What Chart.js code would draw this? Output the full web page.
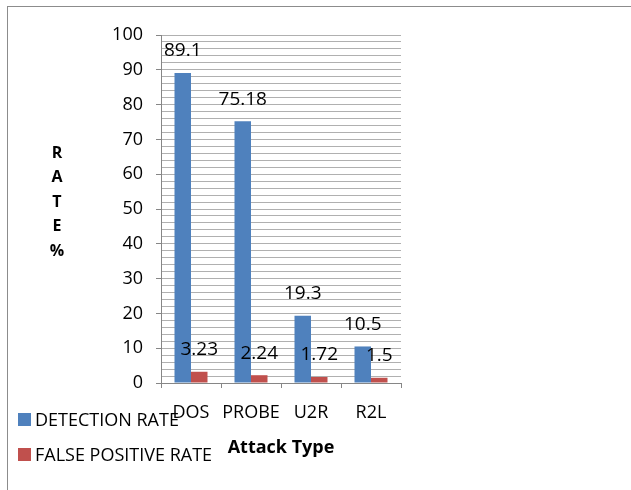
<!DOCTYPE html>
<html><head><meta charset="utf-8">
<script src="https://cdn.jsdelivr.net/npm/chart.js@4.4.0/dist/chart.umd.min.js"></script>
<style>
html,body{margin:0;padding:0;background:#fff;}
#wrap{position:relative;width:631px;height:490px;overflow:hidden;}
#frame{position:absolute;left:7px;top:6px;width:700px;height:600px;border-left:1px solid #8c8c8c;border-top:1px solid #8c8c8c;}
canvas{position:absolute;left:0;top:0;}
</style></head><body>
<div id="wrap"><div id="frame"></div><canvas id="c" width="631" height="490"></canvas></div>
<script>
const categories = ['DOS', 'PROBE', 'U2R', 'R2L'];
const detectionRate = [89.1, 75.18, 19.3, 10.5];
const falsePositiveRate = [3.23, 2.24, 1.72, 1.5];
const seriesNames = ['DETECTION RATE', 'FALSE POSITIVE RATE'];
const seriesColors = ['#4F81BD', '#C0504D'];
const yAxisLetters = ['R', 'A', 'T', 'E', '%'];
const xAxisTitle = 'Attack Type';
const yMin = 0, yMax = 100, yMajorStep = 10, yMinorStep = 2;

const FONT = "'Open Sans', 'Liberation Sans', sans-serif";

// value labels above each bar, stacked axis caption, and the legend in the lower-left corner
const decorations = {
  id: 'decorations',
  afterDatasetsDraw(chart) {
    const ctx = chart.ctx;
    ctx.save();
    ctx.fillStyle = '#000';
    ctx.font = '19px ' + FONT;
    ctx.textAlign = 'center';
    ctx.textBaseline = 'middle';
    chart.data.datasets.forEach((ds, i) => {
      chart.getDatasetMeta(i).data.forEach((bar, j) => {
        ctx.fillText(String(ds.data[j]), bar.x, bar.y - 22);
      });
    });
    ctx.restore();
  },
  afterDraw(chart) {
    const ctx = chart.ctx;
    ctx.save();
    ctx.fillStyle = '#000';
    ctx.font = 'bold 16px ' + FONT;
    ctx.textAlign = 'center';
    ctx.textBaseline = 'middle';
    yAxisLetters.forEach((ch, i) => ctx.fillText(ch, 57, 153 + i * 24.5));

    ctx.font = '18px ' + FONT;
    ctx.textAlign = 'left';
    chart.data.datasets.forEach((ds, i) => {
      const cy = 420 + i * 35;
      ctx.fillStyle = ds.backgroundColor;
      ctx.fillRect(18, cy - 7, 13, 13);
      ctx.fillStyle = '#000';
      ctx.fillText(ds.label, 35, cy + 1);
    });
    ctx.restore();
  }
};

new Chart(document.getElementById('c'), {
  type: 'bar',
  data: {
    labels: categories,
    datasets: [
      { label: seriesNames[0], data: detectionRate, backgroundColor: seriesColors[0] },
      { label: seriesNames[1], data: falsePositiveRate, backgroundColor: seriesColors[1] }
    ]
  },
  options: {
    responsive: false,
    animation: false,
    devicePixelRatio: 1,
    layout: { padding: { left: 0, right: 230, top: 35, bottom: 0 } },
    datasets: { bar: { categoryPercentage: 0.55, barPercentage: 1.0 } },
    plugins: { legend: { display: false }, tooltip: { enabled: false } },
    scales: {
      x: {
        offset: true,
        afterFit(scale) { scale.height = 107; },
        grid: { drawOnChartArea: false, drawTicks: true, tickLength: 5, color: '#868686', offset: true },
        border: { color: '#868686' },
        ticks: { color: '#000', font: { family: FONT, size: 18 }, padding: 14, autoSkip: false, maxRotation: 0, minRotation: 0 },
        title: {
          display: true, text: xAxisTitle, color: '#000',
          font: { family: FONT, size: 18, weight: 'bold' },
          padding: { top: 0, bottom: 31 }
        }
      },
      y: {
        min: yMin, max: yMax,
        afterFit(scale) { scale.width = 161; },
        // one gridline every minor step, labels only on the major steps
        afterBuildTicks(scale) {
          const ticks = [];
          for (let v = yMin; v <= yMax; v += yMinorStep) ticks.push({ value: v });
          scale.ticks = ticks;
        },
        grid: {
          color: '#b0b0b0',
          tickLength: 5,
          tickColor: (c) => (c.tick && c.tick.value % yMajorStep === 0) ? '#868686' : 'rgba(0,0,0,0)'
        },
        border: { color: '#868686' },
        ticks: {
          autoSkip: false, color: '#000', padding: 13,
          font: { family: FONT, size: 18 },
          callback: (v) => (v % yMajorStep === 0 ? String(v) : '')
        }
      }
    }
  },
  plugins: [decorations]
});
</script>
</body></html>
